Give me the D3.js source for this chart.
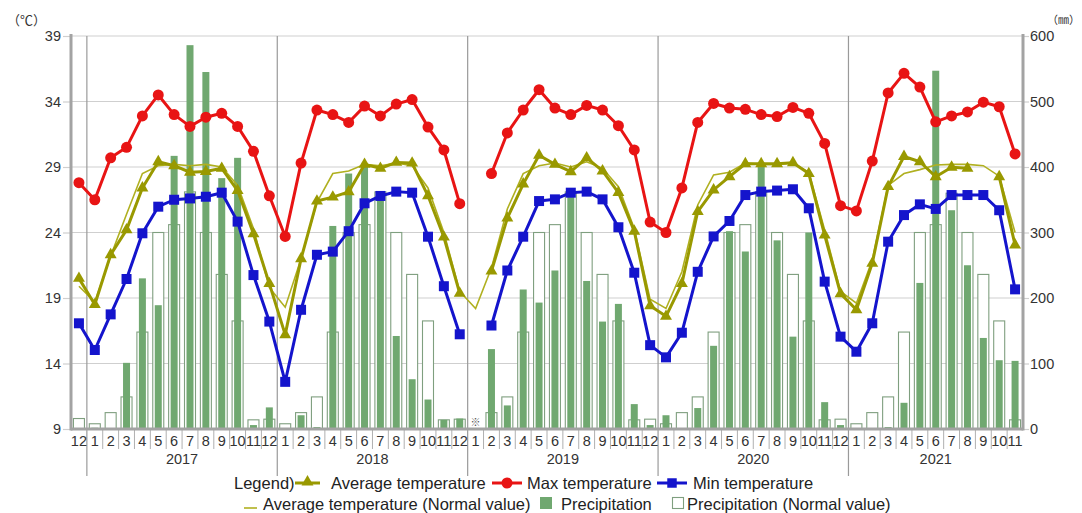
<!DOCTYPE html>
<html>
<head>
<meta charset="utf-8">
<script src="https://cdn.jsdelivr.net/npm/d3@7"></script>
<style>
  body { margin: 0; background: #fff; }
  svg { display: block; font-family: "Liberation Sans", Arial, sans-serif; }
</style>
</head>
<body>
<svg id="chart" width="1082" height="513"></svg>
<script>
// month labels Dec 2016 .. Nov 2021
const months = [12,
  1,2,3,4,5,6,7,8,9,10,11,12,
  1,2,3,4,5,6,7,8,9,10,11,12,
  1,2,3,4,5,6,7,8,9,10,11,12,
  1,2,3,4,5,6,7,8,9,10,11,12,
  1,2,3,4,5,6,7,8,9,10,11];
const years = ["2017", "2018", "2019", "2020", "2021"];
const tempTicks = [9, 14, 19, 24, 29, 34, 39];
const precipTicks = [0, 100, 200, 300, 400, 500, 600];

const maxTemp = [27.8,
  26.5, 29.7, 30.5, 32.9, 34.5, 33.0, 32.1, 32.8, 33.1, 32.1, 30.2, 26.8,
  23.7, 29.3, 33.35, 33.0, 32.4, 33.65, 32.9, 33.8, 34.15, 32.05, 30.3, 26.2,
  null, 28.5, 31.6, 33.35, 34.9, 33.5, 33.0, 33.7, 33.35, 32.15, 30.3, 24.8,
  24.0, 27.4, 32.4, 33.85, 33.5, 33.4, 33.0, 32.85, 33.55, 33.1, 30.8, 26.05,
  25.65, 29.45, 34.65, 36.15, 35.1, 32.45, 32.9, 33.2, 33.95, 33.6, 30.0];

const avgTemp = [20.5,
  18.5, 22.3, 24.2, 27.4, 29.4, 29.1, 28.6, 28.65, 28.9, 27.2, 23.9, 20.1,
  16.2, 22.0, 26.4, 26.7, 27.1, 29.2, 28.9, 29.35, 29.3, 26.8, 23.65, 19.35,
  null, 21.05, 25.1, 27.7, 29.9, 29.2, 28.64, 29.7, 28.7, 27.05, 24.1, 18.4,
  17.6, 20.1, 25.6, 27.25, 28.26, 29.25, 29.25, 29.25, 29.33, 28.5, 23.8, 19.33,
  18.1, 21.65, 27.5, 29.8, 29.4, 28.26, 28.98, 28.9, null, 28.26, 23.05];

const minTemp = [17.07,
  15.03, 17.75, 20.45, 23.94, 25.97, 26.5, 26.6, 26.73, 27.04, 24.83, 20.75, 17.2,
  12.6, 18.1, 22.3, 22.54, 24.1, 26.23, 26.79, 27.12, 27.04, 23.68, 19.9, 16.23,
  null, 16.9, 21.1, 23.68, 26.4, 26.53, 27.04, 27.12, 26.53, 24.4, 20.93, 15.4,
  14.47, 16.35, 21.0, 23.7, 24.88, 26.86, 27.12, 27.2, 27.3, 25.85, 20.25, 16.05,
  14.9, 17.07, 23.3, 25.33, 26.15, 25.8, 26.86, 26.86, 26.86, 25.7, 19.66];

const normalTemp = [19.9,
  18.7, 22.2, 25.4, 28.5, 29.1, 29.2, 29.1, 29.2, 29.0, 27.6, 24.3, 19.8,
  18.3, 22.0, 26.3, 28.5, 28.7, 29.2, 29.1, 29.3, 29.1, 27.4, 24.0, 19.5,
  18.2, 21.3, 25.8, 28.5, 29.1, 29.3, 29.0, 29.4, 28.9, 27.5, 24.3, 18.9,
  18.2, 21.0, 26.1, 28.4, 28.6, 29.3, 29.2, 29.2, 29.3, 28.6, 24.2, 19.5,
  18.6, 21.9, 27.6, 28.5, 28.8, 29.15, 29.2, 29.2, 29.1, 28.3, 24.0];

const precip = [0,
  2, 0, 101, 230, 189, 417, 586, 545, 383, 414, 6, 33,
  0, 21, 3, 310, 390, 405, 350, 142, 76, 45, 14, 16,
  null, 122, 36, 213, 193, 242, 364, 226, 164, 191, 38, 6,
  21, 0, 32, 127, 302, 271, 400, 288, 141, 300, 41, 6,
  0, 0, 3, 40, 223, 547, 334, 250, 139, 105, 104];

const normalPrecip = [16,
  8, 25, 49, 148, 300, 312, 362, 300, 236, 165, 14, 15,
  8, 25, 49, 148, 300, 312, 362, 300, 236, 165, 14, 15,
  null, 25, 49, 148, 300, 312, 362, 300, 236, 165, 14, 15,
  8, 25, 49, 148, 300, 312, 362, 300, 236, 165, 14, 15,
  8, 25, 49, 148, 300, 312, 360, 300, 236, 165, 14];

const C = { red: "#e81414", blue: "#1414cc", olive: "#999900", normal: "#b0b020",
            green: "#70a870", hollow: "#7f9f7f", axis: "#a3a3a3", grid: "#cfcfcf", text: "#333" };

const svg = d3.select("#chart");
const L = 71, R = 1023, T = 36, B = 429;
const idx = d3.range(months.length);

const x = d3.scaleBand().domain(idx).range([L, R]).padding(0);
const yT = d3.scaleLinear().domain([9, 39]).range([B, T]);
const yP = d3.scaleLinear().domain([0, 600]).range([B, T]);
const cx = i => x(i) + x.bandwidth() / 2;

// grid
svg.append("g").selectAll("line").data(tempTicks.slice(1)).enter().append("line")
  .attr("x1", L).attr("x2", R).attr("y1", d => yT(d)).attr("y2", d => yT(d))
  .attr("stroke", C.grid).attr("stroke-width", 1.2);

// year separators
const yearStarts = idx.filter(i => months[i] === 1);
svg.append("g").selectAll("line").data(yearStarts).enter().append("line")
  .attr("x1", d => x(d)).attr("x2", d => x(d)).attr("y1", T).attr("y2", 476)
  .attr("stroke", "#9a9a9a").attr("stroke-width", 1.2);

// month separators under the axis
svg.append("g").selectAll("line").data(idx.filter(i => i > 0 && months[i] !== 1)).enter().append("line")
  .attr("x1", d => x(d)).attr("x2", d => x(d)).attr("y1", B).attr("y2", 449)
  .attr("stroke", "#b0b0b0").attr("stroke-width", 1);

// precipitation normal (hollow)
svg.append("g").selectAll("rect").data(idx.filter(i => normalPrecip[i] != null)).enter().append("rect")
  .attr("x", i => cx(i) - 5.5).attr("width", 11)
  .attr("y", i => yP(normalPrecip[i])).attr("height", i => B - yP(normalPrecip[i]))
  .attr("fill", "#fff").attr("stroke", C.hollow).attr("stroke-width", 1.1);

// precipitation
svg.append("g").selectAll("rect").data(idx.filter(i => precip[i] != null)).enter().append("rect")
  .attr("x", i => cx(i) - 3.5).attr("width", 7)
  .attr("y", i => yP(precip[i])).attr("height", i => B - yP(precip[i]))
  .attr("fill", C.green);

// missing data mark
svg.append("g").selectAll("text").data(idx.filter(i => precip[i] == null)).enter().append("text")
  .attr("x", cx).attr("y", B - 3).attr("text-anchor", "middle")
  .style("font-family", "'Noto Sans CJK JP'").style("font-size", "10px").attr("fill", "#555")
  .text("※");

// lines
function series(vals) { return idx.map(i => ({ i: i, v: vals[i] })); }
const line = d3.line().defined(d => d.v != null).x(d => cx(d.i)).y(d => yT(d.v));

svg.append("path").datum(series(normalTemp)).attr("d", line)
  .attr("fill", "none").attr("stroke", C.normal).attr("stroke-width", 1.6);

function drawSeries(vals, color, shape) {
  const data = series(vals);
  svg.append("path").datum(data).attr("d", line)
    .attr("fill", "none").attr("stroke", color).attr("stroke-width", 3).attr("stroke-linejoin", "round");
  const pts = data.filter(d => d.v != null);
  svg.append("g").selectAll("path").data(pts).enter().append("path")
    .attr("transform", d => "translate(" + cx(d.i) + "," + yT(d.v) + ")")
    .attr("d", d3.symbol().type(shape.type).size(shape.size))
    .attr("fill", color);
}
drawSeries(avgTemp, C.olive, { type: d3.symbolTriangle, size: 62 });
drawSeries(minTemp, C.blue, { type: d3.symbolSquare, size: 100 });
drawSeries(maxTemp, C.red, { type: d3.symbolCircle, size: 95 });

// axes
const leftAxis = svg.append("g").attr("transform", "translate(" + L + ",0)")
  .call(d3.axisLeft(yT).tickValues(tempTicks).tickSize(8).tickPadding(2));
const rightAxis = svg.append("g").attr("transform", "translate(" + R + ",0)")
  .call(d3.axisRight(yP).tickValues(precipTicks).tickSize(6).tickPadding(1));
const bottomAxis = svg.append("g").attr("transform", "translate(0," + B + ")")
  .call(d3.axisBottom(x).tickSize(0).tickPadding(7).tickFormat(i => months[i]));

[leftAxis, rightAxis, bottomAxis].forEach(g => {
  g.select(".domain").remove();
  g.selectAll(".tick line").attr("stroke", C.grid).attr("stroke-width", 1.2);
  g.selectAll("text").attr("fill", C.text).style("font-size", "14.5px");
});
bottomAxis.selectAll("text").attr("dy", "0.72em");

// thick frame lines
svg.append("line").attr("x1", L).attr("x2", L).attr("y1", T - 2).attr("y2", B + 1.5)
  .attr("stroke", C.axis).attr("stroke-width", 3);
svg.append("line").attr("x1", R).attr("x2", R).attr("y1", T - 2).attr("y2", B + 1.5)
  .attr("stroke", C.axis).attr("stroke-width", 3);
svg.append("line").attr("x1", L).attr("x2", R).attr("y1", B).attr("y2", B)
  .attr("stroke", C.axis).attr("stroke-width", 3);

// year labels
svg.append("g").selectAll("text").data(years).enter().append("text")
  .attr("x", (d, k) => {
    const s = yearStarts[k];
    const e = Math.min(s + 11, months.length - 1);
    return (x(s) + x(e) + x.bandwidth()) / 2;
  })
  .attr("y", 464).attr("text-anchor", "middle").attr("fill", C.text)
  .style("font-size", "14.5px").text(d => d);

// unit labels
svg.append("text").attr("x", 7).attr("y", 25)
  .style("font-family", "'Noto Sans CJK JP'").style("font-size", "13px").attr("fill", C.text)
  .text("（℃）");
svg.append("text").attr("x", 1047).attr("y", 24)
  .style("font-family", "'Noto Sans CJK JP'").style("font-size", "11px").attr("fill", C.text)
  .text("（㎜）");

// legend
const lg = svg.append("g").style("font-size", "16.5px").attr("fill", "#222");
lg.append("text").attr("x", 234).attr("y", 489).text("Legend)");
function legLine(x1, x2, y, color, w) {
  lg.append("line").attr("x1", x1).attr("x2", x2).attr("y1", y).attr("y2", y)
    .attr("stroke", color).attr("stroke-width", w);
}
function legSym(xc, y, color, type, size) {
  lg.append("path").attr("transform", "translate(" + xc + "," + y + ")")
    .attr("d", d3.symbol().type(type).size(size)).attr("fill", color);
}
legLine(295, 320, 483, C.olive, 3); legSym(307.5, 482, C.olive, d3.symbolTriangle, 62);
lg.append("text").attr("x", 331).attr("y", 489).text("Average temperature");
legLine(492, 522, 483, C.red, 3); legSym(507, 483, C.red, d3.symbolCircle, 95);
lg.append("text").attr("x", 527).attr("y", 489).text("Max temperature");
legLine(657, 687, 483, C.blue, 3); legSym(672, 483, C.blue, d3.symbolSquare, 90);
lg.append("text").attr("x", 693).attr("y", 489).text("Min temperature");

legLine(244, 257, 508, C.normal, 1.6);
lg.append("text").attr("x", 263).attr("y", 510).text("Average temperature (Normal value)");
lg.append("rect").attr("x", 540).attr("y", 497).attr("width", 12).attr("height", 12).attr("fill", C.green);
lg.append("text").attr("x", 561).attr("y", 510).text("Precipitation");
lg.append("rect").attr("x", 672.5).attr("y", 497.5).attr("width", 11).attr("height", 11)
  .attr("fill", "#fff").attr("stroke", C.hollow).attr("stroke-width", 1.1);
lg.append("text").attr("x", 687).attr("y", 510).text("Precipitation (Normal value)");
</script>
</body>
</html>
